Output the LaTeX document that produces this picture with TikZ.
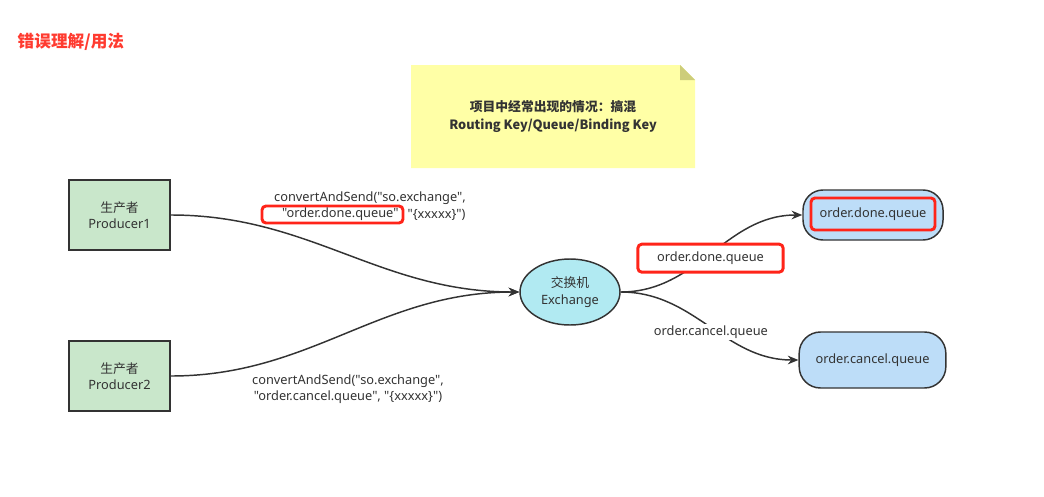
\documentclass[tikz,border=0pt]{standalone}
\usepackage{fontspec}
\setmainfont{Noto Sans}[Ligatures=TeXOff]
\newfontfamily\cjk{Noto Sans CJK SC}
\usetikzlibrary{arrows.meta,shapes.geometric}

\definecolor{linegray}{HTML}{333333}
\definecolor{prodgreen}{HTML}{C9E7CB}
\definecolor{exchcyan}{HTML}{B1EAF2}
\definecolor{queueblue}{HTML}{BDDDF8}
\definecolor{notefill}{HTML}{FFFFA6}
\definecolor{notefold}{HTML}{CDCD7A}
\definecolor{markred}{HTML}{FF2419}
\definecolor{titlered}{HTML}{FF3B30}

\begin{document}
\begin{tikzpicture}[x=0.75pt, y=-0.75pt, font=\fontsize{9.6}{12.4}\selectfont, text=linegray,
	producer/.style={draw=linegray, line width=1.1pt, fill=prodgreen, minimum width=75.75pt, minimum height=52.5pt, align=center},
	exch/.style={ellipse, draw=linegray, line width=1.1pt, fill=exchcyan, minimum width=75pt, minimum height=49.5pt, inner sep=0pt, align=center},
	queuebox/.style={draw=linegray, line width=1.1pt, fill=queueblue, rounded corners=15pt},
	redmark/.style={draw=markred, line width=2.2pt, rounded corners=3pt},
	flow/.style={draw=linegray, line width=1.1pt, -{Stealth[length=8pt, width=6.5pt]}},
	lbl/.style={inner sep=1pt, align=center}]
	\useasboundingbox (0,0) rectangle (1044,496);
	% Title
	\node[anchor=west, text=titlered, font=\cjk\fontsize{12.5}{14}\selectfont\bfseries] (title) at (13,42) {错误理解/用法};
	% Note with folded corner
	\coordinate (nA) at (411,65);
	\coordinate (nB) at (680,65);
	\coordinate (nC) at (695,80);
	\coordinate (nD) at (695,168);
	\coordinate (nE) at (411,168);
	\fill[notefill] (nA) -- (nB) -- (nC) -- (nD) -- (nE) -- cycle;
	\fill[notefold] (nB) -- (nC) -- (680,80) -- cycle;
	\node[align=center, font=\cjk\fontsize{9.6}{13.5}\selectfont\bfseries] (note) at (553,117) {项目中经常出现的情况：搞混\\Routing Key/Queue/Binding Key};
	% Producers, exchange and queues
	\node[producer] (p1) at (119.5,215) {{\cjk 生产者}\\Producer1};
	\node[producer] (p2) at (119.5,376) {{\cjk 生产者}\\Producer2};
	\node[exch] (ex) at (570,292) {{\cjk 交换机}\\Exchange};
	\node[queuebox, minimum width=105pt, minimum height=37.5pt] (q1) at (873,215) {};
	\node[redmark, minimum width=93pt, minimum height=24pt, inner sep=1pt] (q1mark) at (873,214) {order.done.queue};
	\node[queuebox, minimum width=110pt, minimum height=42pt, rounded corners=16pt] (q2) at (872.5,360) {order.cancel.queue};
	% Wires
	\draw[flow] (p1.east) to[out=0, in=180] (ex.west);
	\draw[flow] (p2.east) to[out=0, in=180] (ex.west);
	\draw[flow] (ex.east) to[out=0, in=180] node[redmark, fill=white, minimum width=109pt, minimum height=21pt, pos=0.5, xshift=-0.75pt, yshift=-3.5pt] (k1) {order.done.queue} (q1.west);
	\draw[flow] (ex.east) to[out=0, in=180] node[lbl, fill=white, pos=0.5, xshift=1pt, yshift=-4.5pt] (k2) {order.cancel.queue} (q2.west);
	% Call labels
	\node[lbl] (c1) at (370,198) {convertAndSend("so.exchange",};
	\node[redmark, minimum width=105.75pt, minimum height=12.75pt, inner ysep=0pt, inner xsep=3pt, text width=99pt, align=right] (c1key) at (332.5,214.5) {"order.done.queue"};
	\node[lbl, anchor=west] (c1rest) at (406,215) {"\{xxxxx\}")};
	\node[lbl] (c2) at (348,389) {convertAndSend("so.exchange",\\"order.cancel.queue", "\{xxxxx\}")};
\end{tikzpicture}
\end{document}
